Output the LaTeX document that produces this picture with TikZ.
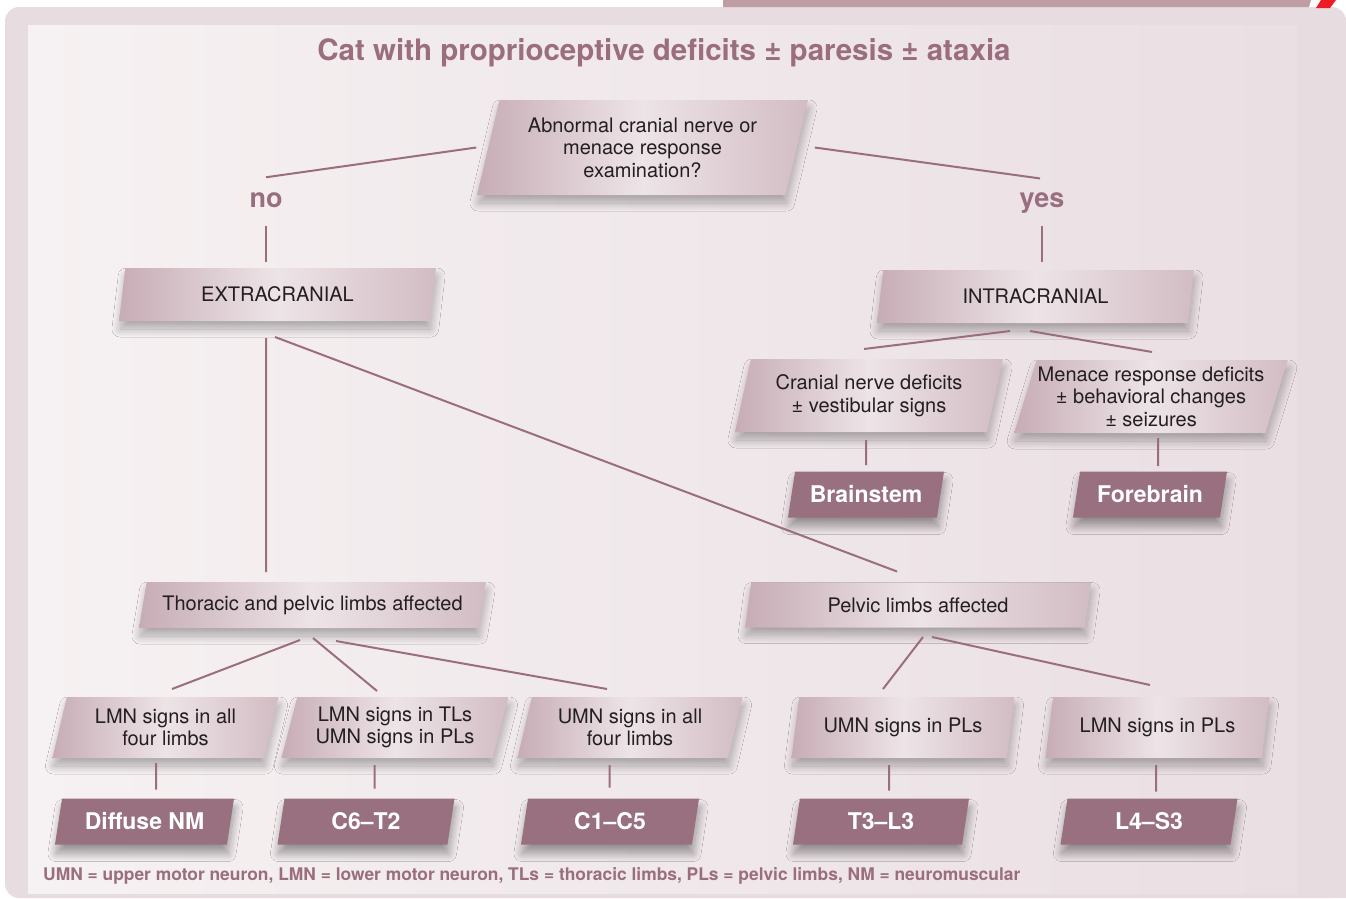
\documentclass[tikz,border=0pt]{standalone}
\usepackage{fontspec}
\setmainfont{TeX Gyre Heros}
\usetikzlibrary{shapes.geometric,shadows.blur}

\definecolor{plum}{HTML}{9A6E7F}
\definecolor{plumdark}{HTML}{98707F}
\definecolor{boxedge}{HTML}{C7ACB6}
\definecolor{boxmid}{HTML}{EDE4E7}
\definecolor{boxright}{HTML}{D2BCC4}
\definecolor{framefill}{HTML}{E7DDE0}
\definecolor{panelleft}{HTML}{F6F1F2}
\definecolor{panelright}{HTML}{EADFE3}
\definecolor{bandfill}{HTML}{BF9DA5}
\definecolor{slash}{HTML}{EE1C25}
\definecolor{ink}{HTML}{231F20}

\tikzset{
  pgram/.style={trapezium, trapezium left angle=70, trapezium right angle=110,
    trapezium stretches body=true, inner xsep=1pt, inner ysep=1pt, outer sep=0pt, align=center},
  ask/.style={pgram, font=\fontsize{20}{22.5}\selectfont, text=ink,
    left color=boxedge, right color=boxright, middle color=boxmid,
    blur shadow={shadow xshift=1pt, shadow yshift=-8pt, shadow blur radius=8pt,
      shadow blur steps=24, shadow opacity=30}},
  site/.style={pgram, font=\fontsize{23}{26}\selectfont\bfseries, text=white, fill=plumdark,
    minimum height=46pt,
    blur shadow={shadow xshift=1pt, shadow yshift=-9pt, shadow blur radius=8pt,
      shadow blur steps=24, shadow opacity=38}},
  answer/.style={font=\fontsize{27}{30}\selectfont\bfseries, text=plum, inner sep=0pt},
  link/.style={draw=plum, line width=2pt}
}

\begin{document}
\begin{tikzpicture}[x=1pt,y=-1pt]
\useasboundingbox (0,0) rectangle (1346,898);

% background
\fill[framefill, rounded corners=14pt] (5,7) rectangle (1346,898);
\fill[framefill] (1320,870) rectangle (1346,898);
\shade[left color=panelleft, right color=panelright] (28,25) rectangle (1297,893);
\fill[bandfill] (723,0) -- (1311,0) -- (1309,7) -- (723,7) -- cycle;
\fill[slash] (1321,0) -- (1336,0) -- (1330,8) -- (1316,8) -- cycle;

% title
\node[font=\fontsize{29.5}{32}\selectfont\bfseries, text=plum] (title) at (664,53)
  {Cat with proprioceptive deficits ± paresis ± ataxia};

% question
\node[ask, minimum width=331pt, minimum height=95pt] (q) at (642.5,147.5)
  {Abnormal cranial nerve or\\menace response\\examination?};
\node[answer] (no) at (266,200) {no};
\node[answer] (yes) at (1042,203) {yes};

% level 1
\node[ask, minimum width=317pt, minimum height=53pt] (ext) at (277.5,294.5) {EXTRACRANIAL};
\node[ask, minimum width=317pt, minimum height=53pt] (int) at (1035.5,296.5) {INTRACRANIAL};

% intracranial
\node[ask, minimum width=268pt, minimum height=73pt] (cnd) at (869,395.5)
  {Cranial nerve deficits\\± vestibular signs};
\node[ask, minimum width=270pt, minimum height=73pt] (mrd) at (1151,396.5)
  {Menace response deficits\\± behavioral changes\\± seizures};
\node[site, minimum width=156pt] (brain) at (866,494.5) {Brainstem};
\node[site, minimum width=154pt] (fore) at (1150,494.5) {Forebrain};

% extracranial
\node[ask, minimum width=347pt, minimum height=46pt] (tpl) at (312.5,605) {Thoracic and pelvic limbs affected};
\node[ask, minimum width=346pt, minimum height=45pt] (pla) at (918,605) {Pelvic limbs affected};

\node[ask, minimum width=226pt, minimum height=61pt] (lmn4) at (165.5,727.5) {LMN signs in all\\four limbs};
\node[ask, minimum width=227pt, minimum height=61pt] (lmntl) at (395,727.5) {LMN signs in TLs\\UMN signs in PLs};
\node[ask, minimum width=225pt, minimum height=61pt] (umn4) at (630,727.5) {UMN signs in all\\four limbs};
\node[ask, minimum width=223pt, minimum height=61pt] (umnpl) at (903,727.5) {UMN signs in PLs};
\node[ask, minimum width=224pt, minimum height=61pt] (lmnpl) at (1157.5,727.5) {LMN signs in PLs};

\node[site, minimum width=179pt] (dnm) at (144.5,821.5) {Diffuse NM};
\node[site, minimum width=177pt] (c6t2) at (366,821.5) {C6–T2};
\node[site, minimum width=178pt] (c1c5) at (610,821.5) {C1–C5};
\node[site, minimum width=176pt] (t3l3) at (881,821.5) {T3–L3};
\node[site, minimum width=177pt] (l4s3) at (1149,821.5) {L4–S3};

% connectors
\draw[link] ([xshift=-12pt]q.west) -- ([yshift=15pt]no.north);
\draw[link] ([xshift=18pt]q.east) -- ([xshift=-2pt,yshift=14pt]yes.north);
\draw[link, shorten <=18pt, shorten >=6pt] (no.south) -- (no.south |- ext.north);
\draw[link, shorten <=12pt, shorten >=8pt] (yes.south) -- (yes.south |- int.north);
\draw[link] ([xshift=-11.5pt,yshift=-17pt]ext.south) -- ([xshift=-46.5pt,yshift=10pt]tpl.north);
\draw[link] ([xshift=-2.5pt,yshift=-16pt]ext.south) -- ([xshift=-21pt,yshift=11pt]pla.north);
\draw[link] ([xshift=-25.5pt,yshift=-8pt]int.south) -- ([xshift=-5pt,yshift=10pt]cnd.north);
\draw[link] ([xshift=-5.5pt,yshift=-8pt]int.south) -- ([xshift=1pt,yshift=8pt]mrd.north);
\draw[link] ([xshift=-3pt,yshift=-8pt]cnd.south) -- ([yshift=6.5pt]brain.north);
\draw[link] ([xshift=7pt,yshift=-5pt]mrd.south) -- ([xshift=8pt,yshift=5.5pt]fore.north);
\draw[link] ([xshift=-12.5pt,yshift=-12pt]tpl.south) -- ([xshift=6.5pt,yshift=8pt]lmn4.north);
\draw[link] ([xshift=0.5pt,yshift=-10pt]tpl.south) -- ([xshift=-18pt,yshift=6pt]lmntl.north);
\draw[link] ([xshift=23.5pt,yshift=-13pt]tpl.south) -- ([xshift=-23pt,yshift=8pt]umn4.north);
\draw[link] ([xshift=5pt,yshift=-9.5pt]pla.south) -- ([xshift=-20pt,yshift=8pt]umnpl.north);
\draw[link] ([xshift=14pt,yshift=-9.5pt]pla.south) -- ([xshift=-7.5pt,yshift=12pt]lmnpl.north);
\draw[link] ([xshift=-9.5pt,yshift=-5pt]lmn4.south) -- ([xshift=11.5pt,yshift=9pt]dnm.north);
\draw[link] ([xshift=-20.5pt,yshift=-7pt]lmntl.south) -- ([xshift=8.5pt,yshift=10pt]c6t2.north);
\draw[link] ([xshift=-20.5pt,yshift=-7pt]umn4.south) -- ([xshift=-0.5pt,yshift=11pt]c1c5.north);
\draw[link] ([xshift=-14pt,yshift=-7pt]umnpl.south) -- ([xshift=8pt,yshift=8pt]t3l3.north);
\draw[link] ([xshift=-1.5pt,yshift=-7pt]lmnpl.south) -- ([xshift=7pt,yshift=7pt]l4s3.north);

% footnote
\node[anchor=west, inner sep=0pt, font=\fontsize{17.4}{19}\selectfont\bfseries, text=plum] (note) at (43,876)
  {UMN = upper motor neuron, LMN = lower motor neuron, TLs = thoracic limbs, PLs = pelvic limbs, NM = neuromuscular};
\end{tikzpicture}
\end{document}
